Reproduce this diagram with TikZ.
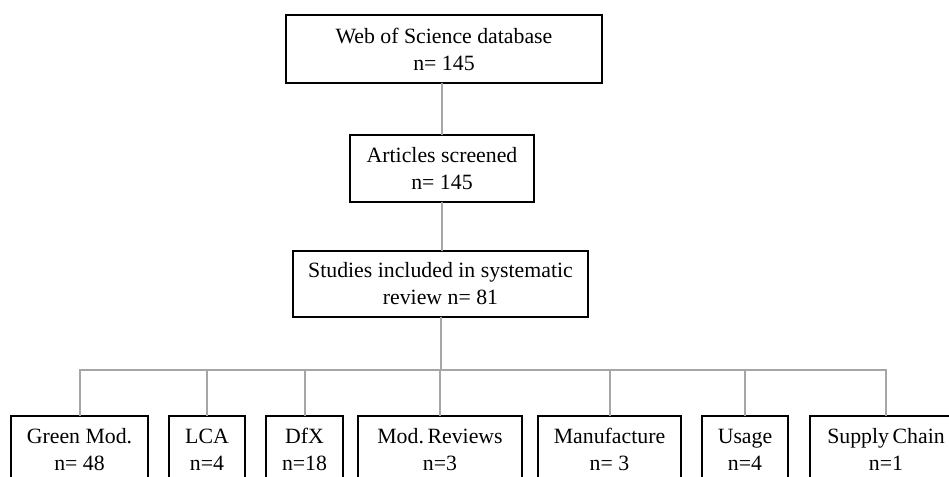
\documentclass[tikz,border=0pt]{standalone}
\usepackage{fontspec}
\setmainfont{Liberation Serif}
\usepackage{xcolor}
\usepackage{tikz}
\usetikzlibrary{positioning, calc}

\begin{document}
\begin{tikzpicture}[
    x=0.5pt, y=-0.5pt,
    box/.style={
      draw, rectangle, line width=1pt, outer sep=0pt,
      align=center, inner sep=2pt,
      font=\fontsize{10.9}{13.5}\selectfont
    },
    leaf/.style={box, minimum height=33.5pt},
    link/.style={draw=black!35, line width=1pt}
  ]

    \useasboundingbox (0,0) rectangle (949,477);
    \clip (0,0) rectangle (949,477);

    % ── Screening stages ──
    \node[box, minimum width=158pt, minimum height=34pt] (wos) at (444,49)
      {Web of Science database\\n= 145};
    \node[box, minimum width=92pt, minimum height=33.5pt] (screened) at (442,168.5)
      {Articles screened\\n= 145};
    \node[box, minimum width=147.5pt, minimum height=33pt] (included) at (440.5,284)
      {Studies included in systematic\\review n= 81};

    \draw[link] (screened.north) -- (screened.north |- wos.south);
    \draw[link] (screened.south) -- (screened.south |- included.north);

    % ── Categories ──
    \node[leaf, minimum width=68.5pt, anchor=north west] (green) at (11,416)
      {Green Mod.\\n= 48};
    \node[leaf, minimum width=38pt, right=10.5pt of green] (lca) {LCA\\n=4};
    \node[leaf, minimum width=38.5pt, right=10.5pt of lca] (dfx) {DfX\\n=18};
    \node[leaf, minimum width=82pt, right=7.5pt of dfx] (modrev)
      {Mod.\,Reviews\\n=3};
    \node[leaf, minimum width=71.5pt, right=8pt of modrev] (manuf)
      {Manufacture\\n= 3};
    \node[leaf, minimum width=43pt, right=10.5pt of manuf] (usage) {Usage\\n=4};
    \node[leaf, minimum width=76pt, right=11pt of usage] (supply)
      {Supply\,Chain\\n=1};

    % ── Bus ──
    \coordinate (bus) at (440,370);
    \draw[link] (included.south) -- (included.south |- bus);
    \draw[link] (green.north) -- (green.north |- bus) -| (supply.north);
    \foreach \cat in {lca, dfx, modrev, manuf, usage}
      \draw[link] (\cat.north) -- (\cat.north |- bus);

  \end{tikzpicture}
\end{document}
